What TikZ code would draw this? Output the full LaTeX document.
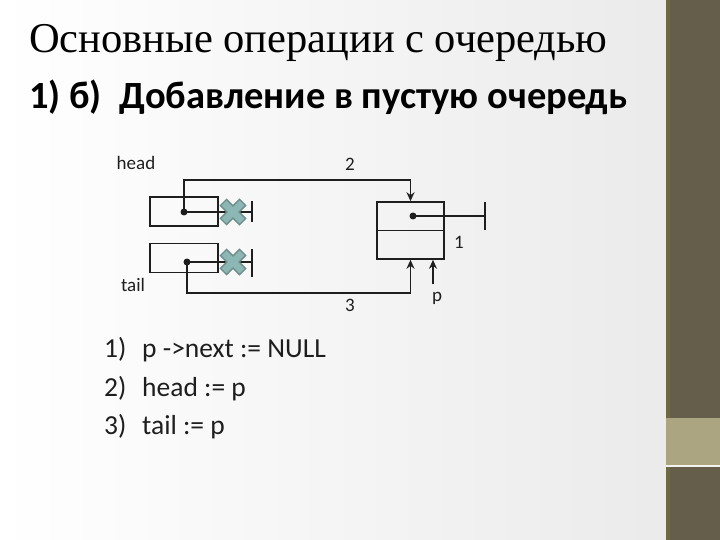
\documentclass[tikz,border=0pt]{standalone}
\usepackage{fontspec}
\setmainfont{Carlito}
\newfontfamily\titlefont{Liberation Serif}
\usetikzlibrary{positioning,arrows.meta,calc}
\definecolor{ink}{RGB}{30,30,30}
\definecolor{barbrown}{RGB}{101,94,74}
\definecolor{barline}{RGB}{112,104,66}
\definecolor{barband}{RGB}{171,166,129}
\definecolor{crossfill}{RGB}{141,183,180}
\definecolor{crossedge}{RGB}{110,140,137}
\tikzset{
  cell/.style={draw=ink, line width=1.6pt, minimum width=68pt, minimum height=29pt, inner sep=0pt},
  dot/.style={circle, fill=ink, inner sep=0pt, minimum size=7pt},
  link/.style={line width=1.6pt, draw=ink},
  arrow/.style={-{Stealth[length=9pt,width=8pt]}, line width=1.6pt, draw=ink},
  lbl/.style={font=\fontsize{19}{22}\selectfont, text=ink, inner sep=0pt},
  item/.style={font=\fontsize{27.5}{30}\selectfont, text=ink, inner sep=0pt, anchor=base west}
}

\begin{document}
\begin{tikzpicture}[x=1pt, y=-1pt]
  \useasboundingbox (0,0) rectangle (720,540);
  % background and side bar
  \shade[left color=white, right color=black!8] (0,0) rectangle (666,540);
  \fill[barbrown] (666,0) rectangle (720,540);
  \fill[barline] (666,0) rectangle (670,540);
  \fill[barband] (666,418) rectangle (720,465);
  \fill[white!85!barband] (666,465) rectangle (720,467);

  % titles
  \node[anchor=west, inner sep=0pt, font=\titlefont\fontsize{42.5}{46}\selectfont] (title) at (29,43) {Основные операции с очередью};
  \node[anchor=west, inner sep=0pt, font=\bfseries\fontsize{38.5}{42}\selectfont] (subtitle) at (29,97) {1) б)\ \ Добавление в пустую очередь};

  % pointer cells
  \node[cell] (headcell) at (184,211.5) {};
  \node[cell] (tailcell) at (184,258) {};
  \node[cell, minimum width=67pt, minimum height=57pt] (pcell) at (410.5,230.5) {};
  \draw[link] (pcell.west) -- (pcell.east);

  \node[dot] (hdot) at (184,212) {};
  \node[dot] (tdot) at (187,262) {};
  \node[dot] (pdot) at (413,216) {};

  \coordinate (hend) at (252,212);
  \coordinate (tend) at (252,262);
  \coordinate (pend) at (485,216);
  \draw[link] (hdot.center) -- (hend) ([yshift=-10pt]hend) -- ([yshift=11pt]hend);
  \draw[link] (tdot.center) -- (tend) ([yshift=-15pt]tend) -- ([yshift=13pt]tend);
  \draw[link] (pdot.center) -- (pend) ([yshift=-14pt]pend) -- ([yshift=14pt]pend);

  % crossed out links
  \foreach \c in {(233,212),(233,262)} {
    \draw[crossedge, line width=10pt] \c ++(-10,-10) -- ++(20,20) \c ++(-10,10) -- ++(20,-20);
    \draw[crossfill, line width=7pt] \c ++(-9,-9) -- ++(18,18) \c ++(-9,9) -- ++(18,-18);
  }

  % new links
  \draw[arrow] (hdot.center) -- ++(0,-32) -| (pcell.north);
  \draw[arrow] (tdot.center) -- ++(0,31) -| (pcell.south);
  \coordinate (pin) at (433,284);
  \draw[arrow] (pin) -- (pin |- pcell.south);

  % labels
  \node[lbl] (headlbl) at (136,163) {head};
  \node[lbl] (taillbl) at (133,285) {tail};
  \node[lbl] (two) at (350,164) {2};
  \node[lbl] (one) at (459,242) {1};
  \node[lbl] (three) at (350,305) {3};
  \node[lbl] (plbl) at (437,298) {p};

  % steps
  \foreach \n/\t [count=\i] in {1)/p ->next := NULL, 2)/head := p, 3)/tail := p} {
    \node[item] (num\i) at (104,319+38.5*\i) {\n};
    \node[item] (stepline\i) at (142,319+38.5*\i) {\t};
  }
\end{tikzpicture}
\end{document}
